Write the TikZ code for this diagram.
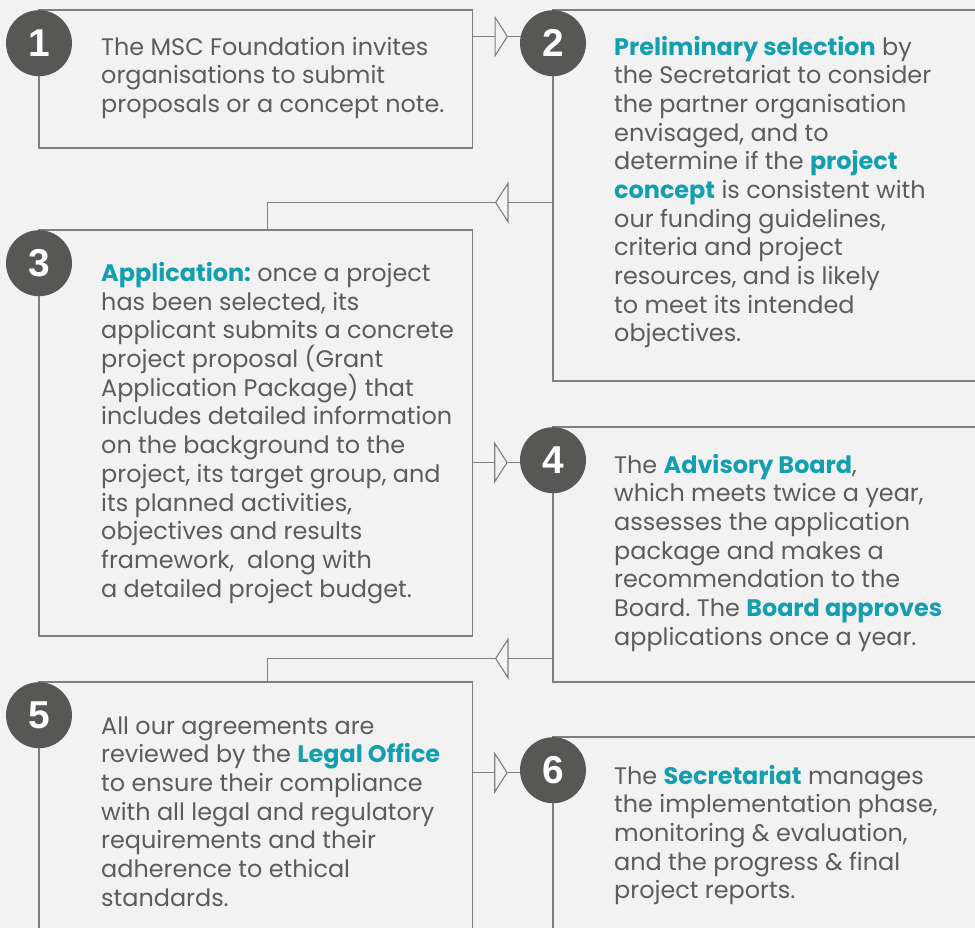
\documentclass[tikz,border=0pt]{standalone}
\usepackage{fontspec}
\setmainfont{Poppins}
\newfontfamily\numfont{Liberation Sans}
\usetikzlibrary{arrows.meta}
\frenchspacing
\definecolor{bgc}{HTML}{F2F2F2}
\definecolor{linec}{HTML}{7F7F7F}
\definecolor{txtc}{HTML}{5C5C5C}
\definecolor{circc}{HTML}{575756}
\definecolor{msctealc}{HTML}{149FB0}
\newcommand\mscbody{\fontsize{24}{28.8}\selectfont\frenchspacing}
\newcommand\mschl[1]{\textcolor{msctealc}{\textbf{#1}}}
\tikzset{
  boxst/.style={draw=linec, line width=1.3bp, inner sep=0pt, outer sep=0pt, anchor=north west},
  numc/.style={circle, fill=circc, text=white, minimum size=66bp, inner sep=0pt, anchor=north,
    font=\numfont\bfseries\fontsize{39}{39}\selectfont},
  conn/.style={draw=linec, line width=1.3bp},
  tipst/.style={conn, -{Triangle[open, length=13.5bp, width=42bp, line width=1.1bp]}},
  txt/.style={anchor=base west, inner sep=0pt, text=txtc}
}
\begin{document}
\begin{tikzpicture}[x=1bp, y=-1bp]
\useasboundingbox (0,0) rectangle (975,928);
\fill[bgc] (0,0) rectangle (975,928);
\clip (0,0) rectangle (975,928);
% boxes
\node[boxst, minimum width=433.7bp, minimum height=138bp] (b1) at (39,10) {};
\node[boxst, minimum width=447bp, minimum height=371bp] (b2) at (553,10) {};
\node[boxst, minimum width=433.7bp, minimum height=406bp] (b3) at (39,230) {};
\node[boxst, minimum width=447bp, minimum height=255bp] (b4) at (553,427) {};
\node[boxst, minimum width=433.7bp, minimum height=268bp] (b5) at (39,682) {};
\node[boxst, minimum width=447bp, minimum height=213bp] (b6) at (553,737) {};
% connectors
\coordinate (t12) at (508,36.5);
\draw[tipst] (b1.north east |- t12) -- (t12);
\draw[conn] (t12) -- (b2.north west |- t12);
\coordinate (t23) at (495,202.5);
\coordinate (k23) at (267.3,230);
\draw[tipst] (b2.north west |- t23) -- (t23);
\draw[conn] (t23) -| (k23);
\coordinate (t34) at (507.7,462.5);
\draw[tipst] (b3.north east |- t34) -- (t34);
\draw[conn] (t34) -- (b4.north west |- t34);
\coordinate (t45) at (495,658.5);
\coordinate (k45) at (267.3,682);
\draw[tipst] (b4.north west |- t45) -- (t45);
\draw[conn] (t45) -| (k45);
\coordinate (t56) at (507.7,772.7);
\draw[tipst] (b5.north east |- t56) -- (t56);
\draw[conn] (t56) -- (b6.north west |- t56);
% circles
\node[numc] (c1) at (b1.north west) {1};
\node[numc] (c2) at (b2.north west) {2};
\node[numc] (c3) at (b3.north west) {3};
\node[numc] (c4) at (b4.north west) {4};
\node[numc] (c5) at (b5.north west) {5};
\node[numc] (c6) at (b6.north west) {6};
% texts
\node[txt] (x1) at (101,55) {\parbox[t]{360bp}{\mscbody\raggedright
The MSC Foundation invites\\
organisations to submit\\
proposals or a concept note.}};
\node[txt] (x2) at (614,55) {\parbox[t]{360bp}{\mscbody\raggedright
\mschl{Preliminary selection} by\\
the Secretariat to consider\\
the partner organisation\\
envisaged, and to\\
determine if the \mschl{project}\\
\mschl{concept} is consistent with\\
our funding guidelines,\\
criteria and project\\
resources, and is likely\\
to meet its intended\\
objectives.}};
\node[txt] (x3) at (101,281.5) {\parbox[t]{360bp}{\mscbody\raggedright
\mschl{Application:} once a project\\
has been selected, its\\
applicant submits a concrete\\
project proposal (Grant\\
Application Package) that\\
includes detailed information\\
on the background to the\\
project, its target group, and\\
its planned activities,\\
objectives and results\\
framework,\ \ along with\\
a detailed project budget.}};
\node[txt] (x4) at (614,473) {\parbox[t]{360bp}{\mscbody\raggedright
The \mschl{Advisory Board},\\
which meets twice a year,\\
assesses the application\\
package and makes a\\
recommendation to the\\
Board. The \mschl{Board approves}\\
applications once a year.}};
\node[txt] (x5) at (101,734) {\parbox[t]{360bp}{\mscbody\raggedright
All our agreements are\\
reviewed by the \mschl{Legal Office}\\
to ensure their compliance\\
with all legal and regulatory\\
requirements and their\\
adherence to ethical\\
standards.}};
\node[txt] (x6) at (614,784) {\parbox[t]{360bp}{\mscbody\raggedright
The \mschl{Secretariat} manages\\
the implementation phase,\\
monitoring \& evaluation,\\
and the progress \& final\\
project reports.}};
\end{tikzpicture}
\end{document}
